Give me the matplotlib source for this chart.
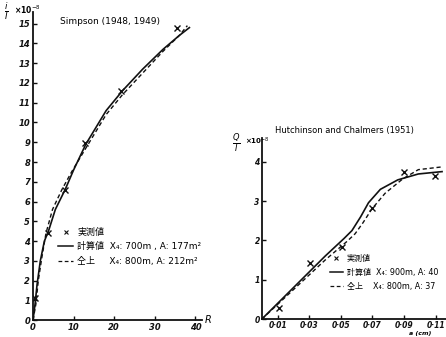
import matplotlib

matplotlib.use("Agg")
import matplotlib.pyplot as plt
import matplotlib.transforms as mtransforms
from matplotlib.lines import Line2D

plt.rcParams["font.family"] = ["DejaVu Sans", "Noto Sans CJK JP"]

# ─── Data: Simpson (1948, 1949) ──────────────────────────────────────────────
simpson_obs_r = [0.5, 3.8, 7.9, 12.7, 21.6, 35.5]
simpson_obs_v = [1.1, 4.4, 6.6, 8.95, 11.6, 14.8]
simpson_calc_r = [0, 0.5, 1.0, 1.8, 2.8, 3.8, 5.5, 7.9, 10.0, 13.0, 18.0, 22.0, 27.0, 32.0, 36.0, 38.5]
simpson_calc_v = [0, 0.8, 1.8, 3.0, 4.0, 4.5, 5.6, 6.6, 7.6, 8.9, 10.6, 11.6, 12.7, 13.7, 14.4, 14.8]
simpson_same_r = [0, 0.7, 1.3, 2.2, 3.2, 4.8, 7.1, 9.5, 13.0, 18.0, 22.0, 27.0, 32.0, 36.0, 38.0]
simpson_same_v = [0, 0.8, 2.0, 3.2, 4.4, 5.6, 6.6, 7.5, 8.7, 10.4, 11.4, 12.5, 13.6, 14.4, 14.9]

# ─── Data: Hutchinson and Chalmers (1951) ────────────────────────────────────
hc_obs_a = [0.011, 0.0306, 0.051, 0.0696, 0.0898, 0.1096]
hc_obs_v = [0.29, 1.43, 1.83, 2.83, 3.73, 3.64]
hc_calc_a = [0, 0.02, 0.04, 0.052, 0.057, 0.0625, 0.0675, 0.075, 0.086, 0.099, 0.114]
hc_calc_v = [0, 0.8, 1.6, 2.05, 2.25, 2.6, 2.96, 3.3, 3.54, 3.69, 3.75]
hc_same_a = [0, 0.02, 0.04, 0.054, 0.059, 0.064, 0.0696, 0.078, 0.089, 0.099, 0.114]
hc_same_v = [0, 0.75, 1.5, 1.98, 2.17, 2.45, 2.8, 3.2, 3.56, 3.8, 3.87]

left_xticks = [0, 10, 20, 30, 40]
left_yticks = list(range(16))
right_xticks = [0.01, 0.03, 0.05, 0.07, 0.09, 0.11]
right_xlabels = ["0·01", "0·03", "0·05", "0·07", "0·09", "0·11"]
right_yticks = [0, 1, 2, 3, 4]

LABEL_OBS = "実測値"
LABEL_CALC = "計算値"
LABEL_SAME = "仝上"

INK = "#111111"


def style_axes(ax, size=6, pad=2):
    for side in ("top", "right"):
        ax.spines[side].set_visible(False)
    for side in ("left", "bottom"):
        ax.spines[side].set_color(INK)
        ax.spines[side].set_linewidth(1.3)
    ax.tick_params(direction="in", length=3, width=1, colors=INK, pad=pad)
    for lbl in ax.get_xticklabels() + ax.get_yticklabels():
        lbl.set_fontsize(size)
        lbl.set_fontweight("bold")
        lbl.set_fontstyle("italic")


def make_legend(ax, labels, anchor, size):
    handles = [
        Line2D([], [], ls="none", marker="x", color=INK, ms=3, mew=0.8),
        Line2D([], [], ls="-", color=INK, lw=1.1),
        Line2D([], [], ls="--", color=INK, lw=0.9, dashes=(3, 2)),
    ]
    ax.legend(handles, labels, loc="upper left", bbox_to_anchor=anchor,
              frameon=False, fontsize=size, handlelength=1.6, handletextpad=0.5,
              labelspacing=0.6, borderpad=0, borderaxespad=0)


fig = plt.figure(figsize=(4.46, 3.37), dpi=100, facecolor="white")

# ─── Left panel ──────────────────────────────────────────────────────────────
ax1 = fig.add_axes([0.074, 0.05, 0.378, 0.915])
ax1.plot(simpson_calc_r, simpson_calc_v, "-", color=INK, lw=1.2)
ax1.plot(simpson_same_r, simpson_same_v, "--", color=INK, lw=1.0, dashes=(3, 2))
ax1.plot(simpson_obs_r, simpson_obs_v, "x", color=INK, ms=4, mew=1)
ax1.set_xlim(0, 41.5)
ax1.set_ylim(0, 15.6)
ax1.set_xticks(left_xticks)
ax1.set_yticks(left_yticks)
style_axes(ax1)
ax1.text(0.16, 0.968, "Simpson (1948, 1949)", transform=ax1.transAxes,
         fontsize=6.5, va="center")
ax1.text(-0.175, 1.0, r"$\frac{i}{I}$", transform=ax1.transAxes,
         fontsize=9, va="center")
ax1.text(-0.115, 1.005, r"×10$^{-8}$", transform=ax1.transAxes,
         fontsize=5.5, fontweight="bold", va="center")
ax1.text(1.02, 0.0, "R", transform=ax1.transAxes, fontsize=7,
         fontstyle="italic", va="center")

make_legend(ax1, [
    LABEL_OBS,
    LABEL_CALC + "  X₄: 700m , A: 177m²",
    LABEL_SAME + "     X₄: 800m, A: 212m²",
], (0.15, 0.30), 6.5)

# ─── Right panel ─────────────────────────────────────────────────────────────
ax2 = fig.add_axes([0.587, 0.053, 0.413, 0.537])
ax2.plot(hc_calc_a, hc_calc_v, "-", color=INK, lw=1.2)
ax2.plot(hc_same_a, hc_same_v, "--", color=INK, lw=1.0, dashes=(3, 2))
ax2.plot(hc_obs_a, hc_obs_v, "x", color=INK, ms=4, mew=1)
ax2.set_xlim(0, 0.1165)
ax2.set_ylim(0, 4.6)
ax2.set_xticks(right_xticks)
ax2.set_xticklabels(right_xlabels)
ax2.set_yticks(right_yticks)
style_axes(ax2, size=5.5, pad=1.5)
ax2.text(0.07, 1.04, "Hutchinson and Chalmers (1951)", transform=ax2.transAxes,
         fontsize=6, va="center")
ax2.text(-0.16, 0.97, r"$\frac{Q}{I}$", transform=ax2.transAxes,
         fontsize=8.5, va="center")
ax2.text(-0.09, 0.985, r"×10$^{-8}$", transform=ax2.transAxes,
         fontsize=5, fontweight="bold", va="center")
bottom_edge = mtransforms.blended_transform_factory(ax2.transAxes, fig.transFigure)
ax2.text(0.1 / 0.1165, 0.002, "a (cm)", transform=bottom_edge, fontsize=4.5,
         fontstyle="italic", fontweight="bold", va="bottom", ha="center")

make_legend(ax2, [
    LABEL_OBS,
    LABEL_CALC + "  X₄: 900m, A: 40",
    LABEL_SAME + "    X₄: 800m, A: 37",
], (0.37, 0.36), 5.8)

fig.savefig("out.png", dpi=100, facecolor="white")
